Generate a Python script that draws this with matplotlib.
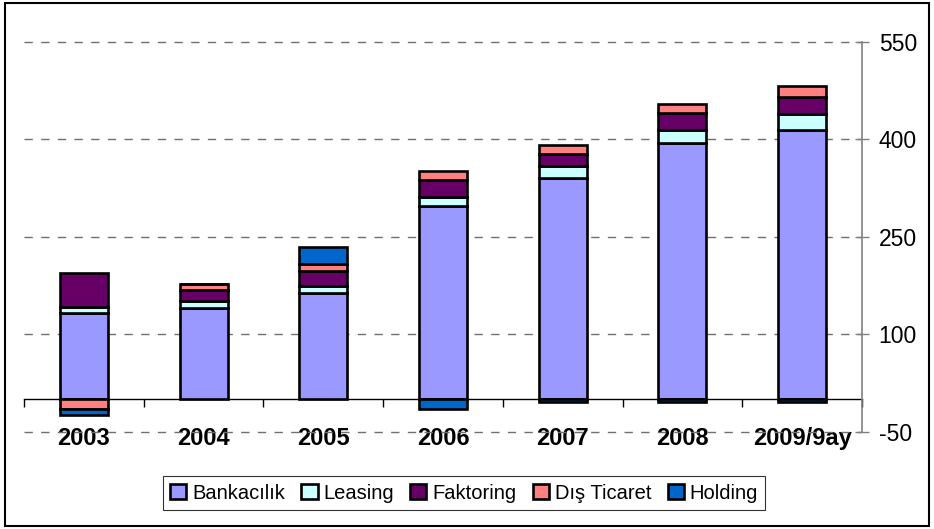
import numpy as np
import matplotlib
matplotlib.use("Agg")
import matplotlib.pyplot as plt
from matplotlib.patches import Rectangle

plt.rcParams['font.family'] = ['Liberation Sans', 'DejaVu Sans']

categories = ["2003", "2004", "2005", "2006", "2007", "2008", "2009/9ay"]
series_names = ["Bankacılık", "Leasing", "Faktoring", "Dış Ticaret", "Holding"]
bankacilik = [133, 141, 164, 297, 341, 395, 414]
leasing = [10, 11, 11, 14, 18, 20, 25]
faktoring = [52, 17, 23, 27, 19, 25, 27]
dis_ticaret = [-15, 8, 11, 14, 14, 15, 16]
holding = [-9, 0, 25, -15, -4, -4, -4]
yticks = [-50, 100, 250, 400, 550]

colors = ["#9999FF", "#CCFFFF", "#660066", "#FF8080", "#0066CC"]
series = [bankacilik, leasing, faktoring, dis_ticaret, holding]

fig = plt.figure(figsize=(9.34, 5.29), dpi=100)
ax = fig.add_axes([0.0257, 0.1834, 0.8972, 0.7372])

x = np.arange(len(categories))
pos_bottom = np.zeros(len(categories))
neg_bottom = np.zeros(len(categories))
for name, vals, col in zip(series_names, series, colors):
    v = np.array(vals, dtype=float)
    bottom = np.where(v >= 0, pos_bottom, neg_bottom)
    ax.bar(x, v, width=0.4, bottom=bottom, color=col, edgecolor="black",
           linewidth=1.9, label=name, zorder=3)
    pos_bottom = pos_bottom + np.where(v > 0, v, 0)
    neg_bottom = neg_bottom + np.where(v < 0, v, 0)

ax.set_xlim(-0.5, len(categories) - 0.5)
ax.set_ylim(-50, 550)

# y axis on right
ax.yaxis.tick_right()
ax.set_yticks(yticks)
ax.set_yticklabels([str(t) for t in yticks], fontsize=16.5)
ax.tick_params(axis='y', direction='inout', length=10, width=1, color='#808080', pad=7)
ax.yaxis.grid(True, color='#707070', linestyle=(0, (6, 6)), linewidth=1)
ax.set_axisbelow(True)
for gl in ax.get_ygridlines():
    gl.set_clip_on(False)

for s in ['left', 'top']:
    ax.spines[s].set_visible(False)
ax.spines['right'].set_color('#808080')
ax.spines['right'].set_linewidth(1.2)
ax.spines['bottom'].set_position(('data', 0))
ax.spines['bottom'].set_color('black')
ax.spines['bottom'].set_linewidth(1)
ax.spines['bottom'].set_zorder(2)

# category boundaries as major ticks, labels as minor
ax.set_xticks(np.arange(len(categories) + 1) - 0.5)
ax.set_xticklabels([])
ax.tick_params(axis='x', which='major', direction='out', length=6, width=1, color='black')
ax.set_xticks(x, minor=True)
ax.set_xticklabels(categories, minor=True, fontsize=17, fontweight='bold')
ax.tick_params(axis='x', which='minor', length=0, pad=20)

leg = fig.legend(loc='center', bbox_to_anchor=(0.497, 0.068), ncol=5,
                 fontsize=14.5, frameon=True, fancybox=False, edgecolor='black',
                 handlelength=0.8, handleheight=0.8, handletextpad=0.3,
                 columnspacing=0.8, borderpad=0.35, borderaxespad=0)
leg.get_frame().set_linewidth(0.8)

fig.patches.append(Rectangle((0.005, 0.006), 0.99, 0.988, transform=fig.transFigure,
                             fill=False, edgecolor='black', linewidth=1.5))

fig.savefig("out.png", dpi=100)
